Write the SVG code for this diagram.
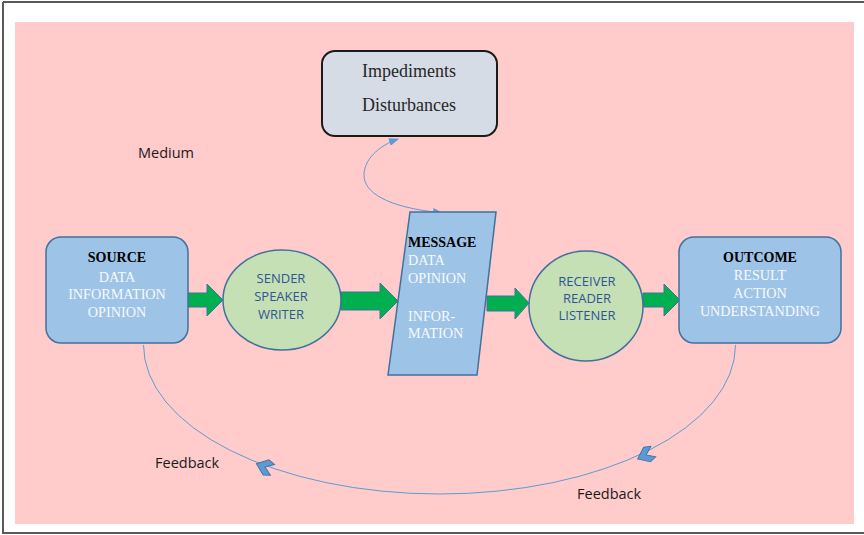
<svg xmlns="http://www.w3.org/2000/svg" width="864" height="535" viewBox="0 0 864 535">
<defs>
<style>
.serif{font-family:"Liberation Serif","Times New Roman",serif;}
.sans{font-family:"Open Sans","Liberation Sans",sans-serif;}
.hd{font-size:14px;font-weight:bold;fill:#000;}
.wt{font-size:14.2px;fill:#f7f9fc;}
.circ{fill:#c5e0b4;stroke:#41719c;stroke-width:1.5;}
.blue{fill:#9dc3e6;stroke:#41719c;stroke-width:1.5;}
.ct{font-size:13px;fill:#2f5496;text-anchor:middle;}
.lbl{font-size:14.5px;fill:#1a1a1a;}
.garrow{fill:#00b050;stroke:#41719c;stroke-width:1;}
.conn{fill:none;stroke:#5b9bd5;stroke-width:1;}
.chev{fill:#5b9bd5;stroke:#41719c;stroke-width:0.8;}
</style>
<marker id="ah" markerWidth="10" markerHeight="8" refX="9" refY="4" orient="auto-start-reverse" markerUnits="userSpaceOnUse">
<path d="M0,0 L10,4 L0,8 Z" fill="#5b9bd5"/>
</marker>
</defs>
<rect x="0" y="0" width="864" height="535" fill="#ffffff"/>
<rect x="15" y="22" width="839" height="502" fill="#ffcccb"/>
<g fill="none" stroke="#595959" stroke-width="2">
<line x1="3" y1="2" x2="864" y2="2"/>
<line x1="3" y1="2" x2="3" y2="534"/>
<line x1="3" y1="533" x2="864" y2="533"/>
</g>

<g id="connectors">
<path class="conn" d="M143.5,345 A296,149 0 0 0 735.5,345"/>
<path class="conn" d="M442,213 C385,207 364,192 364,175 C364,160 378,146 398,139" marker-start="url(#ah)" marker-end="url(#ah)"/>
<polygon class="chev" transform="translate(265,467) rotate(20.8) scale(1.15)" points="-8,0 1,-7 7,-5 0,0 7,5 1,7"/>
<polygon class="chev" transform="translate(646,455) rotate(-24.8) scale(1.15)" points="-8,0 1,-7 7,-5 0,0 7,5 1,7"/>
<polygon class="garrow" points="188,293 207,293 207,284 223,300 207,316 207,307 188,307"/>
<polygon class="garrow" points="341,292 380,292 380,283 398,301 380,319 380,310 341,310"/>
<polygon class="garrow" points="487,296 515,296 515,288 529,303 515,319 515,311 487,311"/>
<polygon class="garrow" points="643,293 664,293 664,284 680,300 664,316 664,307 643,307"/>
</g>

<g id="impediments">
<rect x="322" y="51" width="175" height="85" rx="13" ry="13" fill="#d6dce5" stroke="#1a1a1a" stroke-width="2"/>
<text class="serif" x="409" y="77" font-size="18" fill="#262626" text-anchor="middle">Impediments</text>
<text class="serif" x="409" y="111" font-size="18" fill="#262626" text-anchor="middle">Disturbances</text>
</g>

<g id="medium">
<text class="sans lbl" x="138" y="158">Medium</text>
</g>

<g id="source">
<rect class="blue" x="46" y="237" width="142" height="106" rx="15" ry="15"/>
<text class="serif hd" x="117" y="262" text-anchor="middle">SOURCE</text>
<text class="serif wt" x="117" y="282" text-anchor="middle">DATA</text>
<text class="serif wt" x="117" y="299" text-anchor="middle">INFORMATION</text>
<text class="serif wt" x="117" y="317" text-anchor="middle">OPINION</text>
</g>

<g id="sender">
<ellipse class="circ" cx="282" cy="300" rx="59" ry="50"/>
<text class="sans ct" x="281" y="283">SENDER</text>
<text class="sans ct" x="281" y="301">SPEAKER</text>
<text class="sans ct" x="281" y="319">WRITER</text>
</g>

<g id="message">
<polygon class="blue" points="410,212 496,212 477,375 388,375"/>
<text class="serif hd" x="408" y="247" font-size="13.6">MESSAGE</text>
<text class="serif wt" x="408" y="265">DATA</text>
<text class="serif wt" x="408" y="283">OPINION</text>
<text class="serif wt" x="408" y="321">INFOR-</text>
<text class="serif wt" x="408" y="338">MATION</text>
</g>

<g id="receiver">
<ellipse class="circ" cx="586" cy="306" rx="57" ry="55"/>
<text class="sans ct" x="587" y="286" font-size="12">RECEIVER</text>
<text class="sans ct" x="587" y="303" font-size="12">READER</text>
<text class="sans ct" x="587" y="320" font-size="12">LISTENER</text>
</g>

<g id="outcome">
<rect class="blue" x="679" y="237" width="162" height="106" rx="15" ry="15"/>
<text class="serif hd" x="760" y="262" text-anchor="middle">OUTCOME</text>
<text class="serif wt" x="760" y="280" text-anchor="middle">RESULT</text>
<text class="serif wt" x="760" y="298" text-anchor="middle">ACTION</text>
<text class="serif wt" x="760" y="316" text-anchor="middle">UNDERSTANDING</text>
</g>

<g id="feedback-left">
<text class="sans lbl" x="155" y="468">Feedback</text>
</g>
<g id="feedback-right">
<text class="sans lbl" x="577" y="499">Feedback</text>
</g>
</svg>
